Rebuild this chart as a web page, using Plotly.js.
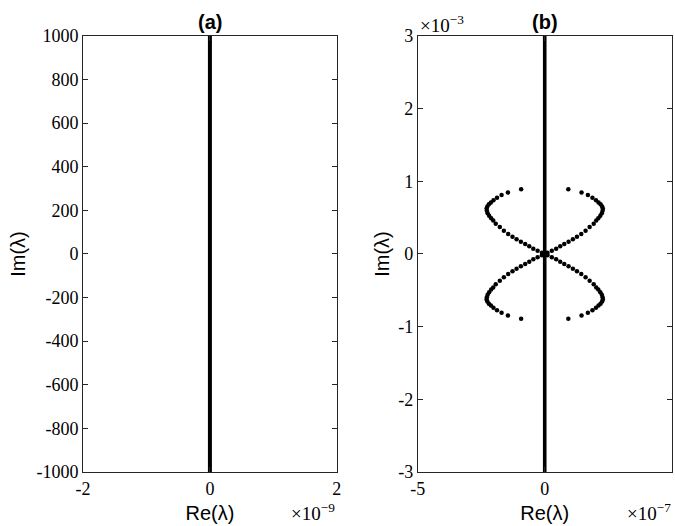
<!DOCTYPE html>
<html>
<head>
<meta charset="utf-8">
<script src="https://cdn.plot.ly/plotly-3.0.1.min.js"></script>
<style>body{margin:0;padding:0;background:#fff;} #chart{width:675px;height:526px;}</style>
</head>
<body>
<div id="chart"></div>
<script>
// Panel (a): eigenvalues on the imaginary axis (Re in units of 1e-9)
const lineA_re = [0, 0];
const lineA_im = [-1000, 1000];

// Panel (b): Re in units of 1e-7, Im in units of 1e-3
const lineB_re = [0, 0];
const lineB_im = [-3, 3];

const q1_re = [0.93,1.45,1.70,1.88,2.02,2.12,2.20,2.26,2.29,2.28,2.25,2.19,2.11,2.03,1.93,1.77,1.61,1.44,1.27,1.11,0.94,0.77,0.61,0.45,0.28,0.11];
const q1_im = [0.89,0.845,0.81,0.775,0.74,0.71,0.685,0.655,0.625,0.595,0.56,0.525,0.49,0.46,0.415,0.37,0.32,0.275,0.238,0.202,0.169,0.138,0.106,0.073,0.045,0.018];
const q2_re = [-0.93,-1.45,-1.70,-1.88,-2.02,-2.12,-2.20,-2.26,-2.29,-2.28,-2.25,-2.19,-2.11,-2.03,-1.93,-1.77,-1.61,-1.44,-1.27,-1.11,-0.94,-0.77,-0.61,-0.45,-0.28,-0.11];
const q2_im = [0.89,0.845,0.81,0.775,0.74,0.71,0.685,0.655,0.625,0.595,0.56,0.525,0.49,0.46,0.415,0.37,0.32,0.275,0.238,0.202,0.169,0.138,0.106,0.073,0.045,0.018];
const q3_re = [-0.93,-1.45,-1.70,-1.88,-2.02,-2.12,-2.20,-2.26,-2.29,-2.28,-2.25,-2.19,-2.11,-2.03,-1.93,-1.77,-1.61,-1.44,-1.27,-1.11,-0.94,-0.77,-0.61,-0.45,-0.28,-0.11];
const q3_im = [-0.89,-0.845,-0.81,-0.775,-0.74,-0.71,-0.685,-0.655,-0.625,-0.595,-0.56,-0.525,-0.49,-0.46,-0.415,-0.37,-0.32,-0.275,-0.238,-0.202,-0.169,-0.138,-0.106,-0.073,-0.045,-0.018];
const q4_re = [0.93,1.45,1.70,1.88,2.02,2.12,2.20,2.26,2.29,2.28,2.25,2.19,2.11,2.03,1.93,1.77,1.61,1.44,1.27,1.11,0.94,0.77,0.61,0.45,0.28,0.11];
const q4_im = [-0.89,-0.845,-0.81,-0.775,-0.74,-0.71,-0.685,-0.655,-0.625,-0.595,-0.56,-0.525,-0.49,-0.46,-0.415,-0.37,-0.32,-0.275,-0.238,-0.202,-0.169,-0.138,-0.106,-0.073,-0.045,-0.018];

// Tick labels
const xTicksA = [-2, 0, 2];
const xTickTextA = ["-2", "0", "2"];
const yTicksA = [-1000,-800,-600,-400,-200,0,200,400,600,800,1000];
const yTickTextA = ["-1000","-800","-600","-400","-200","0","200","400","600","800","1000"];
const xTicksB = [-5, 0, 5];
const xTickTextB = ["-5", "0", "5"];
const yTicksB = [-3,-2,-1,0,1,2,3];
const yTickTextB = ["-3","-2","-1","0","1","2","3"];

const serif = "Liberation Serif, Times New Roman, serif";
const sans = "Liberation Sans, Arial, sans-serif";
const axCol = "#262626";

const curveRe = q1_re.concat(q2_re, q3_re, q4_re);
const curveIm = q1_im.concat(q2_im, q3_im, q4_im);

const traces = [
  {x: lineA_re, y: lineA_im, xaxis: "x", yaxis: "y", type: "scatter", mode: "lines",
   line: {color: "#000", width: 4}, hoverinfo: "skip"},
  {x: lineB_re, y: lineB_im, xaxis: "x2", yaxis: "y2", type: "scatter", mode: "lines",
   line: {color: "#000", width: 3.6}, hoverinfo: "skip"},
  {x: curveRe, y: curveIm, xaxis: "x2", yaxis: "y2", type: "scatter", mode: "markers",
   marker: {color: "#000", size: 4.5}, hoverinfo: "skip"}
];

function axisBase(extra) {
  return Object.assign({
    showgrid: false, zeroline: false, showline: true, linecolor: axCol, linewidth: 1,
    mirror: "ticks", ticks: "inside", ticklen: 5, tickcolor: axCol, tickwidth: 1,
    tickmode: "array", tickfont: {family: serif, size: 18, color: "#000"},
    fixedrange: true
  }, extra);
}

const layout = {
  width: 675, height: 526,
  margin: {l: 0, r: 0, t: 0, b: 0},
  paper_bgcolor: "#fff", plot_bgcolor: "#fff",
  showlegend: false,
  xaxis: axisBase({domain: [0.123, 0.499], range: [-2, 2], tickvals: xTicksA, ticktext: xTickTextA,
    anchor: "y", title: {text: "Re(λ)", font: {family: sans, size: 20, color: "#000"}, standoff: 8}}),
  yaxis: axisBase({domain: [0.1027, 0.9316], range: [-1000, 1000], tickvals: yTicksA, ticktext: yTickTextA,
    anchor: "x", title: {text: "Im(λ)", font: {family: sans, size: 20, color: "#000"}, standoff: 5}}),
  xaxis2: axisBase({domain: [0.619, 0.995], range: [-5, 5], tickvals: xTicksB, ticktext: xTickTextB,
    anchor: "y2", title: {text: "Re(λ)", font: {family: sans, size: 20, color: "#000"}, standoff: 8}}),
  yaxis2: axisBase({domain: [0.1027, 0.9316], range: [-3, 3], tickvals: yTicksB, ticktext: yTickTextB,
    anchor: "x2", title: {text: "Im(λ)", font: {family: sans, size: 20, color: "#000"}, standoff: 3}}),
  annotations: [
    {text: "<b>(a)</b>", xref: "paper", yref: "paper", x: 0.311, y: 0.9316, yshift: 1,
     xanchor: "center", yanchor: "bottom", showarrow: false, font: {family: sans, size: 20, color: "#000"}},
    {text: "<b>(b)</b>", xref: "paper", yref: "paper", x: 0.807, y: 0.9316, yshift: 1,
     xanchor: "center", yanchor: "bottom", showarrow: false, font: {family: sans, size: 20, color: "#000"}},
    {text: "×10<sup>−9</sup>", xref: "paper", yref: "paper", x: 0.499, y: 0.0,
     xanchor: "right", yanchor: "bottom", showarrow: false, font: {family: serif, size: 19, color: "#000"}},
    {text: "×10<sup>−7</sup>", xref: "paper", yref: "paper", x: 0.997, y: 0.0,
     xanchor: "right", yanchor: "bottom", showarrow: false, font: {family: serif, size: 19, color: "#000"}},
    {text: "×10<sup>−3</sup>", xref: "paper", yref: "paper", x: 0.619, y: 0.9316, yshift: -2,
     xanchor: "left", yanchor: "bottom", showarrow: false, font: {family: serif, size: 19, color: "#000"}}
  ]
};

Plotly.newPlot("chart", traces, layout, {staticPlot: true, displayModeBar: false});
</script>
</body>
</html>
